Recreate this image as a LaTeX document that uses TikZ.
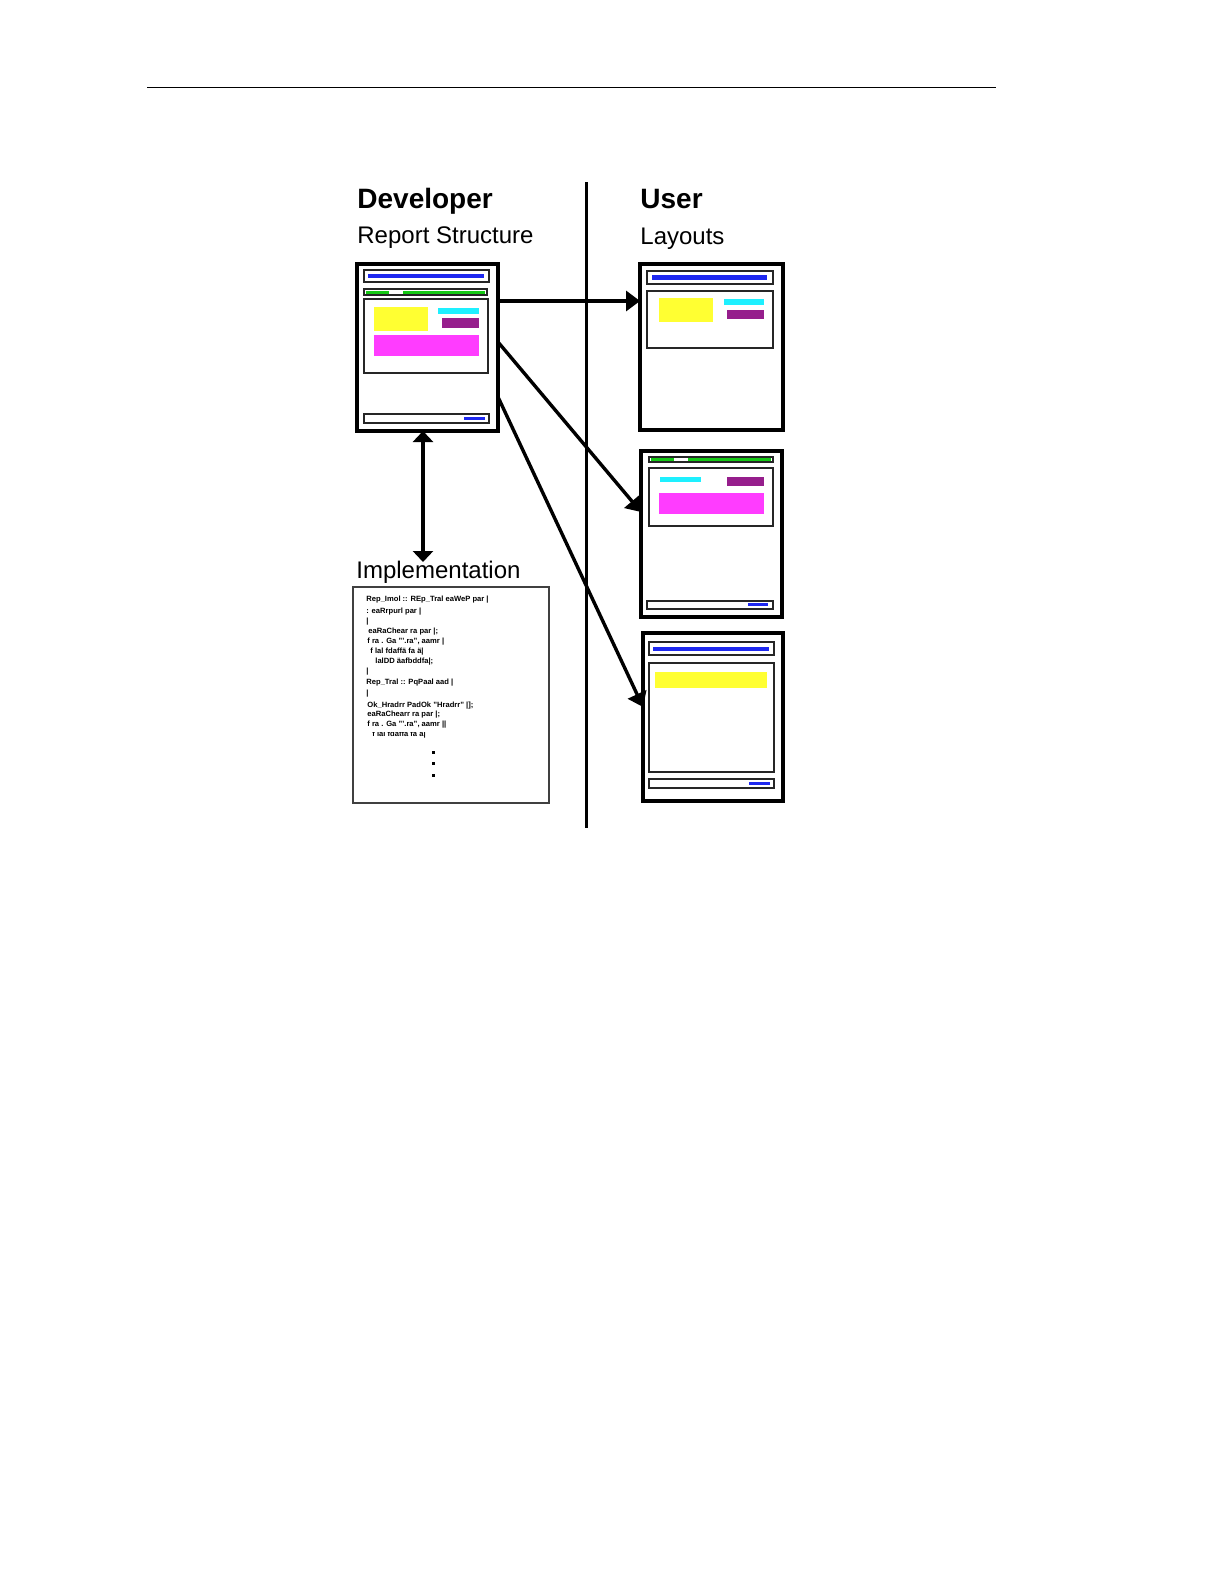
\documentclass[tikz,border=0pt]{standalone}
\usepackage{fontspec}
\setmainfont{Liberation Sans}
\usetikzlibrary{arrows.meta}
\definecolor{cblue}{RGB}{30,40,240}
\definecolor{cgreen}{RGB}{20,200,20}
\definecolor{cyellow}{RGB}{255,255,50}
\definecolor{ccyan}{RGB}{30,240,255}
\definecolor{cpurple}{RGB}{150,30,140}
\definecolor{cmagenta}{RGB}{255,60,255}
\tikzset{
  page/.style={draw=black, line width=1.7pt, fill=white, rectangle, inner sep=0pt, outer sep=0pt},
  inbox/.style={draw=black!85, line width=0.65pt},
  arr/.style={line width=1.7pt, -{Triangle[length=7pt,width=10pt]}},
  darr/.style={line width=1.7pt, {Triangle[length=5.5pt,width=10pt]}-{Triangle[length=5.5pt,width=10pt]}},
  title/.style={anchor=base west, inner sep=0pt, font=\fontsize{14}{16}\selectfont\bfseries},
  subtitle/.style={anchor=base west, inner sep=0pt, font=\fontsize{12}{14}\selectfont},
  code/.style={anchor=base west, inner sep=0pt, font=\fontsize{3.8}{4}\selectfont\bfseries},
}
\begin{document}
\begin{tikzpicture}[x=0.5pt, y=-0.5pt]
\useasboundingbox (0,0) rectangle (1224,1584);
% top rule
\draw[line width=0.5pt] (147,88) -- (996,88);
% divider
\draw[line width=1.5pt] (586,182) -- (586,828);

% titles
\node[title] (devt) at (357,208) {Developer};
\node[subtitle] (devs) at (357,243) {Report Structure};
\node[title] (usert) at (640,208) {User};
\node[subtitle] (users) at (640,244) {Layouts};
\node[subtitle] (implt) at (356,578) {Implementation};

% pages
\node[page, minimum width=70.5pt, minimum height=83.5pt] (dev) at (427.5,347.5) {};
\node[page, minimum width=71.5pt, minimum height=83pt] (r1) at (711.5,347) {};
\node[page, minimum width=70.5pt, minimum height=83pt] (r2) at (711.5,534) {};
\node[page, minimum width=70pt, minimum height=84pt] (r3) at (713,717) {};
\node[draw=black!75, line width=0.6pt, rectangle, minimum width=98pt, minimum height=108pt, inner sep=0pt] (impl) at (451,695) {};

% ---- developer page contents
\draw[inbox] (364,270) rectangle (489,282);
\fill[cblue] (368,274) rectangle (484,278);
\draw[inbox] (364,289) rectangle (487,295);
\fill[cgreen] (366,290.5) rectangle (485,293.5);
\fill[white] (389,290.5) rectangle (403,293.5);
\draw[inbox] (364,299) rectangle (488,373);
\fill[cyellow] (374,307) rectangle (428,331);
\fill[ccyan] (438,308) rectangle (479,314);
\fill[cpurple] (442,318) rectangle (479,328);
\fill[cmagenta] (374,335) rectangle (479,356);
\draw[inbox] (364,414) rectangle (489,423);
\fill[cblue] (464,417) rectangle (485,420);

% ---- right page 1
\draw[inbox] (647,271) rectangle (773,284);
\fill[cblue] (652,275) rectangle (767,280);
\draw[inbox] (647,291) rectangle (773,348);
\fill[cyellow] (659,298) rectangle (713,322);
\fill[ccyan] (724,299) rectangle (764,305);
\fill[cpurple] (727,310) rectangle (764,319);

% ---- right page 2
\draw[inbox] (649,457) rectangle (773,462);
\fill[cgreen] (651,458) rectangle (771,461);
\fill[white] (674,458) rectangle (688,461);
\draw[inbox] (649,468) rectangle (773,526);
\fill[ccyan] (660,477) rectangle (701,482);
\fill[cpurple] (727,477) rectangle (764,486);
\fill[cmagenta] (659,493) rectangle (764,514);
\draw[inbox] (647,601) rectangle (773,609);
\fill[cblue] (748,603) rectangle (768,606);

% ---- right page 3
\draw[inbox] (649,642) rectangle (774,655);
\fill[cblue] (653,647) rectangle (769,651);
\draw[inbox] (649,663) rectangle (774,772);
\fill[cyellow] (655,672) rectangle (767,688);
\draw[inbox] (649,779) rectangle (774,788);
\fill[cblue] (749,782) rectangle (770,785);

% ---- implementation code
\node[code] (c1) at (366,601.5) {Rep\_Imol :: REp\_Tral eaWeP par |};
\node[code] (c2) at (366,613.5) {: eaRrpurl par |};
\node[code] (c3) at (366,623.5) {|};
\node[code] (c4) at (368,633.2) {eaRaChear ra par |;};
\node[code] (c5) at (367,643.5) {f ra . Ga "'.ra", aamr |};
\node[code] (c6) at (370,653.2) {f lal fdaffä fa ä|};
\node[code] (c7) at (375,663.2) {lalDD äafbddfa|;};
\node[code] (c8) at (366,673.5) {|};
\node[code] (c9) at (366,684.8) {Rep\_Tral :: PqPaal aad |};
\node[code] (c10) at (366,695.8) {|};
\node[code] (c11) at (367,707.5) {Ok\_Hradrr PadOk "Hradrr" |];};
\node[code] (c12) at (367,716.8) {eaRaChearr ra par |;};
\node[code] (c13) at (367,726.5) {f ra . Ga "'.ra", aamr ||};
\begin{scope}
\clip (360,732) rectangle (540,740);
\node[code] (c14) at (372,736) {f lal fdaffä fa ä|};
\end{scope}
\fill (431.5,750.5) rectangle (434.5,753.5);
\fill (431.5,762) rectangle (434.5,765);
\fill (431.5,773.5) rectangle (434.5,776.5);

% ---- connectors
\draw[arr] (dev.east |- 0,301) -- (r1.west |- 0,301);
\draw[arr] (dev.east |- 0,342) -- (r2.west |- 0,512);
\draw[arr] (dev.east |- 0,397) -- (r3.west |- 0,707);
\coordinate (dtip) at (423,562);
\draw[darr] (dev.south -| dtip) -- (dtip);
\end{tikzpicture}
\end{document}
